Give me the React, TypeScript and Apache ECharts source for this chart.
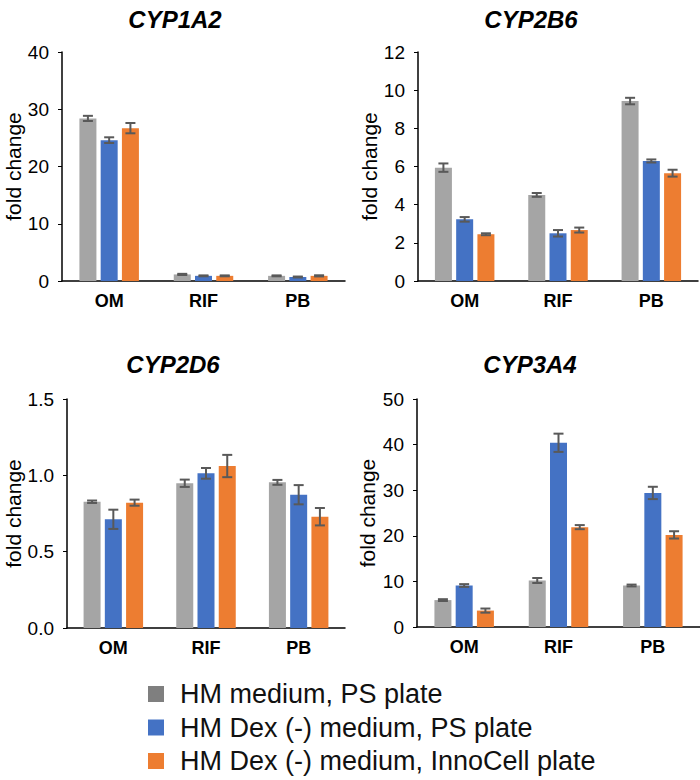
import React, { useEffect, useRef } from "react";
import * as echarts from "echarts";

const categories = ["OM", "RIF", "PB"];
const seriesNames = [
  "HM medium, PS plate",
  "HM Dex (-) medium, PS plate",
  "HM Dex (-) medium, InnoCell plate",
];
const panelTitles = ["CYP1A2", "CYP2B6", "CYP2D6", "CYP3A4"];

// means [series][category]
const cyp1a2Mean = [
  [28.4, 1.15, 0.9],
  [24.6, 0.9, 0.7],
  [26.7, 0.9, 0.9],
];
const cyp1a2Err = [
  [0.45, 0.1, 0.08],
  [0.5, 0.08, 0.08],
  [0.9, 0.08, 0.1],
];
const cyp2b6Mean = [
  [5.94, 4.51, 9.43],
  [3.23, 2.5, 6.29],
  [2.45, 2.67, 5.65],
];
const cyp2b6Err = [
  [0.22, 0.1, 0.17],
  [0.12, 0.17, 0.08],
  [0.05, 0.13, 0.18],
];
const cyp2d6Mean = [
  [0.827, 0.948, 0.954],
  [0.712, 1.013, 0.873],
  [0.821, 1.061, 0.729],
];
const cyp2d6Err = [
  [0.008, 0.024, 0.016],
  [0.063, 0.035, 0.063],
  [0.02, 0.073, 0.057],
];
const cyp3a4Mean = [
  [5.9, 10.2, 9.1],
  [9.1, 40.4, 29.4],
  [3.6, 21.9, 20.2],
];
const cyp3a4Err = [
  [0.2, 0.55, 0.2],
  [0.3, 2.0, 1.35],
  [0.45, 0.45, 0.8],
];

const yMax = [40, 12, 1.5, 50];
const yInterval = [10, 2, 0.5, 10];

const barColors = ["#A5A5A5", "#4472C4", "#ED7D31"];
const legendColors = ["#7F7F7F", "#4472C4", "#ED7D31"];

const FONT = "Liberation Sans, Arial, sans-serif";

export default function App() {
  const ref = useRef<HTMLDivElement>(null);
  useEffect(() => {
    if (!ref.current) return;
    const chart = echarts.init(ref.current, undefined, { renderer: "svg" });
    const means = [cyp1a2Mean, cyp2b6Mean, cyp2d6Mean, cyp3a4Mean];
    const errs = [cyp1a2Err, cyp2b6Err, cyp2d6Err, cyp3a4Err];

    const grids = [
      { left: 62, top: 52, width: 283, height: 229 },
      { left: 418, top: 52, width: 280, height: 229 },
      { left: 67, top: 399, width: 278, height: 229 },
      { left: 417, top: 399, width: 283, height: 228 },
    ];
    const nameGaps = [37, 38, 42, 39];
    const titlePos = [
      { x: 170, y: 2 },
      { x: 526, y: 2 },
      { x: 168, y: 347 },
      { x: 525, y: 347 },
    ];
    const barWidth = 17;
    const gapPx = 4.25;
    const step = barWidth + gapPx;

    const xAxes: any[] = [];
    const yAxes: any[] = [];
    const series: any[] = [];
    grids.forEach((g, gi) => {
      xAxes.push({
        type: "category",
        gridIndex: gi,
        data: categories,
        axisLine: { lineStyle: { color: "#000", width: 1.5 } },
        axisTick: { show: false },
        axisLabel: {
          color: "#000",
          fontSize: 18,
          fontWeight: "bold",
          fontFamily: FONT,
          margin: 11,
        },
      });
      yAxes.push({
        type: "value",
        gridIndex: gi,
        min: 0,
        max: yMax[gi],
        interval: yInterval[gi],
        name: "fold change",
        nameLocation: "middle",
        nameRotate: 90,
        nameGap: nameGaps[gi],
        nameTextStyle: { color: "#000", fontSize: 21, fontFamily: FONT },
        axisLine: { show: true, lineStyle: { color: "#000", width: 1.5 } },
        axisTick: { show: true, length: 4, lineStyle: { color: "#000" } },
        splitLine: { show: false },
        axisLabel: {
          color: "#000",
          fontSize: 19,
          fontFamily: FONT,
          margin: 13,
          formatter: (v: number) => (gi === 2 ? v.toFixed(1) : String(v)),
        },
      });
      for (let s = 0; s < 3; s++) {
        series.push({
          type: "bar",
          name: seriesNames[s],
          xAxisIndex: gi,
          yAxisIndex: gi,
          data: means[gi][s],
          barWidth: barWidth,
          barGap: "25%",
          itemStyle: { color: barColors[s] },
          emphasis: { disabled: true },
        });
      }
      const ebData: any[] = [];
      for (let s = 0; s < 3; s++) {
        for (let c = 0; c < categories.length; c++) {
          ebData.push([c, means[gi][s][c], errs[gi][s][c], s]);
        }
      }
      series.push({
        type: "custom",
        xAxisIndex: gi,
        yAxisIndex: gi,
        data: ebData,
        encode: { x: 0, y: 1 },
        z: 10,
        silent: true,
        renderItem: (params: any, api: any) => {
          const c = api.value(0);
          const m = api.value(1);
          const e = api.value(2);
          const s = api.value(3);
          const base = api.coord([c, m]);
          const x = base[0] + (s - 1) * step;
          const yHi = api.coord([c, m + e])[1];
          const yLo = api.coord([c, m - e])[1];
          const half = 5;
          const style = { stroke: "#595959", lineWidth: 2 };
          return {
            type: "group",
            children: [
              { type: "line", shape: { x1: x, y1: yHi, x2: x, y2: yLo }, style },
              { type: "line", shape: { x1: x - half, y1: yHi, x2: x + half, y2: yHi }, style },
              { type: "line", shape: { x1: x - half, y1: yLo, x2: x + half, y2: yLo }, style },
            ],
          };
        },
      });
    });

    const titles = panelTitles.map((t, i) => ({
      text: t,
      left: titlePos[i].x,
      top: titlePos[i].y,
      textAlign: "center",
      textStyle: {
        fontFamily: FONT,
        fontSize: 24,
        fontWeight: "bold",
        fontStyle: "italic",
        color: "#000",
      },
    }));

    const legendGraphics: any[] = [];
    seriesNames.forEach((n, i) => {
      const cy = 694 + i * 33.5;
      legendGraphics.push({
        type: "rect",
        left: 148,
        top: cy - 8,
        shape: { width: 16, height: 16 },
        style: { fill: legendColors[i] },
      });
      legendGraphics.push({
        type: "text",
        x: 180,
        y: cy,
        style: {
          text: n,
          fontFamily: FONT,
          fontSize: 27,
          fill: "#111",
          textVerticalAlign: "middle",
          verticalAlign: "middle",
        },
      });
    });

    chart.setOption({
      animation: false,
      title: titles,
      grid: grids.map((g) => ({ ...g, containLabel: false })),
      xAxis: xAxes,
      yAxis: yAxes,
      graphic: legendGraphics,
      series,
    });
    return () => chart.dispose();
  }, []);
  return (
    <div
      ref={ref}
      style={{ position: "absolute", left: 0, top: 0, width: 700, height: 780 }}
    />
  );
}
